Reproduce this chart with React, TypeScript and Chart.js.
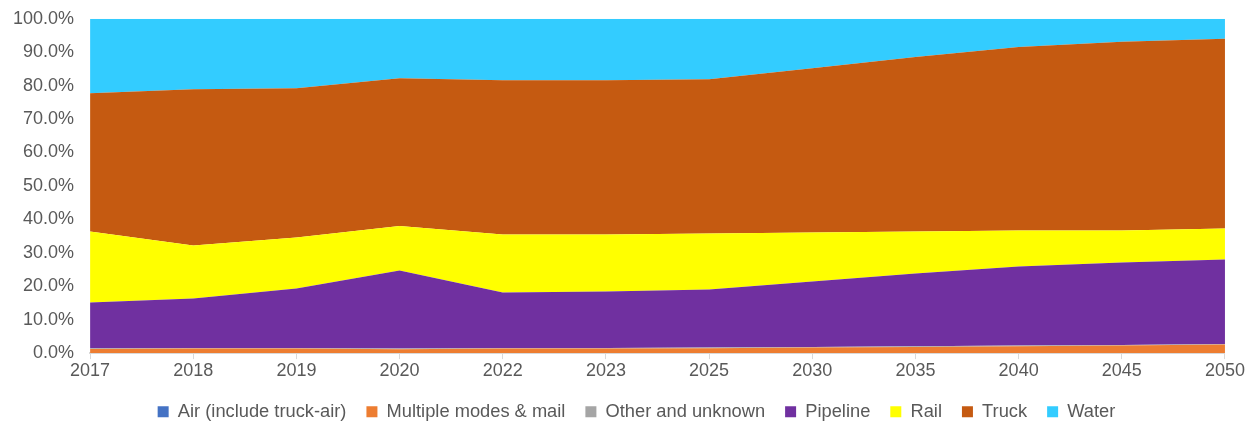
import React, { useEffect, useRef } from "react";
import { Chart, registerables } from "chart.js";

Chart.register(...registerables);

const years = ["2017", "2018", "2019", "2020", "2022", "2023", "2025", "2030", "2035", "2040", "2045", "2050"];
const air = [0.05, 0.05, 0.05, 0.05, 0.05, 0.05, 0.05, 0.05, 0.05, 0.05, 0.05, 0.05];
const multipleModes = [1.2, 1.3, 1.3, 1.1, 1.3, 1.3, 1.4, 1.6, 1.8, 2.0, 2.2, 2.5];
const otherUnknown = [0.2, 0.2, 0.2, 0.2, 0.2, 0.2, 0.2, 0.2, 0.2, 0.2, 0.2, 0.2];
const pipeline = [13.65, 14.75, 17.75, 23.35, 16.55, 16.85, 17.35, 19.55, 21.75, 23.65, 24.65, 25.25];
const rail = [21.3, 15.9, 15.3, 13.3, 17.4, 17.1, 16.8, 14.7, 12.6, 10.8, 9.6, 9.3];
const truck = [41.3, 46.7, 44.6, 44.2, 46.1, 46.1, 46.1, 49.1, 52.2, 54.9, 56.4, 56.7];
const water = [22.3, 21.1, 20.8, 17.8, 18.4, 18.4, 18.1, 14.8, 11.4, 8.4, 6.9, 6.0];

const seriesNames = ["Air (include truck-air)", "Multiple modes & mail", "Other and unknown", "Pipeline", "Rail", "Truck", "Water"];
const seriesColors = ["#4472C4", "#ED7D31", "#A5A5A5", "#7030A0", "#FFFF00", "#C55A11", "#33CCFF"];
const seriesData = [air, multipleModes, otherUnknown, pipeline, rail, truck, water];

const legendShift = {
  id: "legendShift",
  afterLayout(chart: any) {
    const lg = chart.legend;
    if (lg) {
      lg.left += 21;
      lg.right += 21;
    }
  },
};

export default function App() {
  const ref = useRef<HTMLCanvasElement | null>(null);
  useEffect(() => {
    if (!ref.current) return;
    const chart = new Chart(ref.current, {
      type: "line",
      data: {
        labels: years,
        datasets: seriesNames.map((name, i) => ({
          label: name,
          data: seriesData[i],
          backgroundColor: seriesColors[i],
          borderColor: seriesColors[i],
          borderWidth: 0,
          pointRadius: 0,
          fill: i === 0 ? "origin" : "-1",
          tension: 0,
        })),
      },
      plugins: [legendShift],
      options: {
        animation: false,
        responsive: true,
        maintainAspectRatio: false,
        layout: { padding: { left: 5, right: 20, top: 18, bottom: -10 } },
        plugins: {
          legend: {
            position: "bottom",
            labels: {
              boxWidth: 11,
              boxHeight: 11,
              padding: 20,
              color: "#595959",
              font: { family: "Liberation Sans", size: 18.3 },
            },
          },
          tooltip: { enabled: false },
        },
        scales: {
          x: {
            offset: false,
            grid: { display: true, drawOnChartArea: false, drawTicks: true, tickLength: 6, color: "#D9D9D9" },
            border: { color: "#D9D9D9", width: 2 },
            ticks: { color: "#595959", font: { family: "Liberation Sans", size: 18 }, padding: 1, maxRotation: 0 },
          },
          y: {
            stacked: true,
            min: 0,
            max: 100,
            grid: { display: false },
            border: { display: false },
            ticks: {
              stepSize: 10,
              color: "#595959",
              font: { family: "Liberation Sans", size: 18 },
              padding: 8,
              callback: (v) => Number(v).toFixed(1) + "%",
            },
          },
        },
      },
    });
    return () => chart.destroy();
  }, []);
  return (
    <div style={{ position: "fixed", left: 0, top: 0, width: 1246, height: 421, background: "#fff" }}>
      <canvas ref={ref} />
    </div>
  );
}
